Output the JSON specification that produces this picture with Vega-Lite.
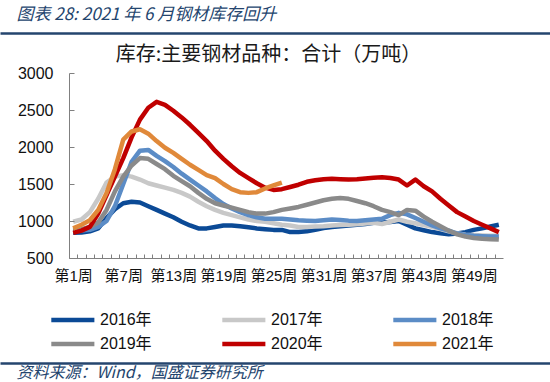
{
  "$schema": "https://vega.github.io/schema/vega-lite/v6.json",
  "width": 434,
  "height": 185,
  "autosize": {"type": "none"},
  "padding": {"left": 69, "top": 73, "right": 47, "bottom": 124},
  "background": "white",
  "config": {"view": {"stroke": null}},
  "data": {
    "values": [
      {"year":"2016年","week":1,"value":840},{"year":"2016年","week":2,"value":845},{"year":"2016年","week":3,"value":860},{"year":"2016年","week":4,"value":900},{"year":"2016年","week":5,"value":1040},{"year":"2016年","week":6,"value":1160},{"year":"2016年","week":7,"value":1240},{"year":"2016年","week":8,"value":1260},{"year":"2016年","week":9,"value":1250},{"year":"2016年","week":10,"value":1200},{"year":"2016年","week":11,"value":1150},{"year":"2016年","week":12,"value":1100},{"year":"2016年","week":13,"value":1050},{"year":"2016年","week":14,"value":990},{"year":"2016年","week":15,"value":940},{"year":"2016年","week":16,"value":900},{"year":"2016年","week":17,"value":900},{"year":"2016年","week":18,"value":920},{"year":"2016年","week":19,"value":940},{"year":"2016年","week":20,"value":940},{"year":"2016年","week":21,"value":930},{"year":"2016年","week":22,"value":915},{"year":"2016年","week":23,"value":900},{"year":"2016年","week":24,"value":890},{"year":"2016年","week":25,"value":880},{"year":"2016年","week":26,"value":880},{"year":"2016年","week":27,"value":850},{"year":"2016年","week":28,"value":850},{"year":"2016年","week":29,"value":860},{"year":"2016年","week":30,"value":880},{"year":"2016年","week":31,"value":905},{"year":"2016年","week":32,"value":920},{"year":"2016年","week":33,"value":930},{"year":"2016年","week":34,"value":940},{"year":"2016年","week":35,"value":950},{"year":"2016年","week":36,"value":960},{"year":"2016年","week":37,"value":975},{"year":"2016年","week":38,"value":980},{"year":"2016年","week":39,"value":985},{"year":"2016年","week":40,"value":1000},{"year":"2016年","week":41,"value":950},{"year":"2016年","week":42,"value":900},{"year":"2016年","week":43,"value":875},{"year":"2016年","week":44,"value":850},{"year":"2016年","week":45,"value":835},{"year":"2016年","week":46,"value":820},{"year":"2016年","week":47,"value":830},{"year":"2016年","week":48,"value":850},{"year":"2016年","week":49,"value":880},{"year":"2016年","week":50,"value":900},{"year":"2016年","week":51,"value":925},{"year":"2016年","week":52,"value":950},
      {"year":"2017年","week":1,"value":990},{"year":"2017年","week":2,"value":1020},{"year":"2017年","week":3,"value":1120},{"year":"2017年","week":4,"value":1300},{"year":"2017年","week":5,"value":1520},{"year":"2017年","week":6,"value":1600},{"year":"2017年","week":7,"value":1620},{"year":"2017年","week":8,"value":1600},{"year":"2017年","week":9,"value":1560},{"year":"2017年","week":10,"value":1510},{"year":"2017年","week":11,"value":1480},{"year":"2017年","week":12,"value":1450},{"year":"2017年","week":13,"value":1420},{"year":"2017年","week":14,"value":1380},{"year":"2017年","week":15,"value":1330},{"year":"2017年","week":16,"value":1260},{"year":"2017年","week":17,"value":1200},{"year":"2017年","week":18,"value":1150},{"year":"2017年","week":19,"value":1110},{"year":"2017年","week":20,"value":1080},{"year":"2017年","week":21,"value":1050},{"year":"2017年","week":22,"value":1020},{"year":"2017年","week":23,"value":1000},{"year":"2017年","week":24,"value":990},{"year":"2017年","week":25,"value":970},{"year":"2017年","week":26,"value":950},{"year":"2017年","week":27,"value":940},{"year":"2017年","week":28,"value":920},{"year":"2017年","week":29,"value":920},{"year":"2017年","week":30,"value":925},{"year":"2017年","week":31,"value":930},{"year":"2017年","week":32,"value":940},{"year":"2017年","week":33,"value":945},{"year":"2017年","week":34,"value":950},{"year":"2017年","week":35,"value":955},{"year":"2017年","week":36,"value":965},{"year":"2017年","week":37,"value":975},{"year":"2017年","week":38,"value":960},{"year":"2017年","week":39,"value":990},{"year":"2017年","week":40,"value":1020},{"year":"2017年","week":41,"value":990},{"year":"2017年","week":42,"value":970},{"year":"2017年","week":43,"value":945},{"year":"2017年","week":44,"value":920},{"year":"2017年","week":45,"value":890},{"year":"2017年","week":46,"value":860},{"year":"2017年","week":47,"value":835},{"year":"2017年","week":48,"value":815},{"year":"2017年","week":49,"value":810},{"year":"2017年","week":50,"value":805},{"year":"2017年","week":51,"value":800},{"year":"2017年","week":52,"value":800},
      {"year":"2018年","week":1,"value":870},{"year":"2018年","week":2,"value":870},{"year":"2018年","week":3,"value":880},{"year":"2018年","week":4,"value":920},{"year":"2018年","week":5,"value":1000},{"year":"2018年","week":6,"value":1200},{"year":"2018年","week":7,"value":1500},{"year":"2018年","week":8,"value":1800},{"year":"2018年","week":9,"value":1950},{"year":"2018年","week":10,"value":1960},{"year":"2018年","week":11,"value":1880},{"year":"2018年","week":12,"value":1810},{"year":"2018年","week":13,"value":1730},{"year":"2018年","week":14,"value":1640},{"year":"2018年","week":15,"value":1560},{"year":"2018年","week":16,"value":1480},{"year":"2018年","week":17,"value":1400},{"year":"2018年","week":18,"value":1310},{"year":"2018年","week":19,"value":1230},{"year":"2018年","week":20,"value":1170},{"year":"2018年","week":21,"value":1120},{"year":"2018年","week":22,"value":1080},{"year":"2018年","week":23,"value":1050},{"year":"2018年","week":24,"value":1030},{"year":"2018年","week":25,"value":1030},{"year":"2018年","week":26,"value":1030},{"year":"2018年","week":27,"value":1020},{"year":"2018年","week":28,"value":1010},{"year":"2018年","week":29,"value":1005},{"year":"2018年","week":30,"value":1000},{"year":"2018年","week":31,"value":1010},{"year":"2018年","week":32,"value":1020},{"year":"2018年","week":33,"value":1015},{"year":"2018年","week":34,"value":1005},{"year":"2018年","week":35,"value":1000},{"year":"2018年","week":36,"value":1010},{"year":"2018年","week":37,"value":1020},{"year":"2018年","week":38,"value":1030},{"year":"2018年","week":39,"value":1080},{"year":"2018年","week":40,"value":1110},{"year":"2018年","week":41,"value":1090},{"year":"2018年","week":42,"value":1040},{"year":"2018年","week":43,"value":990},{"year":"2018年","week":44,"value":940},{"year":"2018年","week":45,"value":900},{"year":"2018年","week":46,"value":870},{"year":"2018年","week":47,"value":830},{"year":"2018年","week":48,"value":810},{"year":"2018年","week":49,"value":800},{"year":"2018年","week":50,"value":795},{"year":"2018年","week":51,"value":790},{"year":"2018年","week":52,"value":790},
      {"year":"2019年","week":1,"value":870},{"year":"2019年","week":2,"value":890},{"year":"2019年","week":3,"value":920},{"year":"2019年","week":4,"value":980},{"year":"2019年","week":5,"value":1150},{"year":"2019年","week":6,"value":1400},{"year":"2019年","week":7,"value":1600},{"year":"2019年","week":8,"value":1750},{"year":"2019年","week":9,"value":1850},{"year":"2019年","week":10,"value":1840},{"year":"2019年","week":11,"value":1770},{"year":"2019年","week":12,"value":1700},{"year":"2019年","week":13,"value":1610},{"year":"2019年","week":14,"value":1540},{"year":"2019年","week":15,"value":1470},{"year":"2019年","week":16,"value":1380},{"year":"2019年","week":17,"value":1300},{"year":"2019年","week":18,"value":1240},{"year":"2019年","week":19,"value":1210},{"year":"2019年","week":20,"value":1180},{"year":"2019年","week":21,"value":1150},{"year":"2019年","week":22,"value":1120},{"year":"2019年","week":23,"value":1100},{"year":"2019年","week":24,"value":1100},{"year":"2019年","week":25,"value":1120},{"year":"2019年","week":26,"value":1150},{"year":"2019年","week":27,"value":1170},{"year":"2019年","week":28,"value":1190},{"year":"2019年","week":29,"value":1220},{"year":"2019年","week":30,"value":1250},{"year":"2019年","week":31,"value":1280},{"year":"2019年","week":32,"value":1300},{"year":"2019年","week":33,"value":1310},{"year":"2019年","week":34,"value":1300},{"year":"2019年","week":35,"value":1270},{"year":"2019年","week":36,"value":1240},{"year":"2019年","week":37,"value":1200},{"year":"2019年","week":38,"value":1150},{"year":"2019年","week":39,"value":1120},{"year":"2019年","week":40,"value":1080},{"year":"2019年","week":41,"value":1150},{"year":"2019年","week":42,"value":1140},{"year":"2019年","week":43,"value":1060},{"year":"2019年","week":44,"value":990},{"year":"2019年","week":45,"value":930},{"year":"2019年","week":46,"value":870},{"year":"2019年","week":47,"value":820},{"year":"2019年","week":48,"value":790},{"year":"2019年","week":49,"value":770},{"year":"2019年","week":50,"value":760},{"year":"2019年","week":51,"value":755},{"year":"2019年","week":52,"value":750},
      {"year":"2020年","week":1,"value":840},{"year":"2020年","week":2,"value":870},{"year":"2020年","week":3,"value":920},{"year":"2020年","week":4,"value":1100},{"year":"2020年","week":5,"value":1350},{"year":"2020年","week":6,"value":1600},{"year":"2020年","week":7,"value":1850},{"year":"2020年","week":8,"value":2130},{"year":"2020年","week":9,"value":2370},{"year":"2020年","week":10,"value":2530},{"year":"2020年","week":11,"value":2610},{"year":"2020年","week":12,"value":2570},{"year":"2020年","week":13,"value":2490},{"year":"2020年","week":14,"value":2400},{"year":"2020年","week":15,"value":2300},{"year":"2020年","week":16,"value":2190},{"year":"2020年","week":17,"value":2080},{"year":"2020年","week":18,"value":1950},{"year":"2020年","week":19,"value":1840},{"year":"2020年","week":20,"value":1740},{"year":"2020年","week":21,"value":1650},{"year":"2020年","week":22,"value":1580},{"year":"2020年","week":23,"value":1510},{"year":"2020年","week":24,"value":1450},{"year":"2020年","week":25,"value":1420},{"year":"2020年","week":26,"value":1430},{"year":"2020年","week":27,"value":1460},{"year":"2020年","week":28,"value":1490},{"year":"2020年","week":29,"value":1530},{"year":"2020年","week":30,"value":1550},{"year":"2020年","week":31,"value":1565},{"year":"2020年","week":32,"value":1570},{"year":"2020年","week":33,"value":1565},{"year":"2020年","week":34,"value":1560},{"year":"2020年","week":35,"value":1565},{"year":"2020年","week":36,"value":1575},{"year":"2020年","week":37,"value":1585},{"year":"2020年","week":38,"value":1590},{"year":"2020年","week":39,"value":1580},{"year":"2020年","week":40,"value":1560},{"year":"2020年","week":41,"value":1480},{"year":"2020年","week":42,"value":1560},{"year":"2020年","week":43,"value":1470},{"year":"2020年","week":44,"value":1400},{"year":"2020年","week":45,"value":1300},{"year":"2020年","week":46,"value":1210},{"year":"2020年","week":47,"value":1120},{"year":"2020年","week":48,"value":1060},{"year":"2020年","week":49,"value":1000},{"year":"2020年","week":50,"value":950},{"year":"2020年","week":51,"value":900},{"year":"2020年","week":52,"value":850},
      {"year":"2021年","week":1,"value":900},{"year":"2021年","week":2,"value":950},{"year":"2021年","week":3,"value":1010},{"year":"2021年","week":4,"value":1150},{"year":"2021年","week":5,"value":1380},{"year":"2021年","week":6,"value":1700},{"year":"2021年","week":7,"value":2100},{"year":"2021年","week":8,"value":2210},{"year":"2021年","week":9,"value":2240},{"year":"2021年","week":10,"value":2180},{"year":"2021年","week":11,"value":2080},{"year":"2021年","week":12,"value":1990},{"year":"2021年","week":13,"value":1920},{"year":"2021年","week":14,"value":1840},{"year":"2021年","week":15,"value":1760},{"year":"2021年","week":16,"value":1690},{"year":"2021年","week":17,"value":1620},{"year":"2021年","week":18,"value":1580},{"year":"2021年","week":19,"value":1500},{"year":"2021年","week":20,"value":1430},{"year":"2021年","week":21,"value":1390},{"year":"2021年","week":22,"value":1380},{"year":"2021年","week":23,"value":1390},{"year":"2021年","week":24,"value":1440},{"year":"2021年","week":25,"value":1480},{"year":"2021年","week":26,"value":1520}
    ]
  },
  "layer": [
    {
      "mark": {"type": "line", "strokeWidth": 4.5, "strokeJoin": "round", "strokeCap": "butt"},
      "encoding": {
        "x": {
          "field": "week", "type": "quantitative",
          "scale": {"domain": [0.5, 52.5], "nice": false, "zero": false},
          "axis": {
            "values": [1,2,3,4,5,6,7,8,9,10,11,12,13,14,15,16,17,18,19,20,21,22,23,24,25,26,27,28,29,30,31,32,33,34,35,36,37,38,39,40,41,42,43,44,45,46,47,48,49,50,51,52],
            "labelExpr": "(datum.value - 1) % 6 == 0 ? '第' + datum.value + '周' : ''",
            "labelOverlap": false, "labelFlush": false, "labelBound": false,
            "grid": false, "title": null, "domain": true, "zindex": 1,
            "tickSize": -4, "tickColor": "#808080", "tickOffset": -4.17, "labelOffset": 4.17,
            "domainColor": "#808080",
            "labelFont": "Liberation Sans, Noto Sans CJK SC", "labelFontSize": 15, "labelColor": "#111111",
            "labelPadding": 14, "labelBaseline": "top"
          }
        },
        "y": {
          "field": "value", "type": "quantitative",
          "scale": {"domain": [500, 3000], "nice": false, "zero": false},
          "axis": {
            "orient": "left",
            "values": [500, 1000, 1500, 2000, 2500, 3000],
            "format": "d", "labelOverlap": false, "labelFlush": false, "labelBound": false,
            "grid": false, "domain": true, "zindex": 1,
            "tickSize": -5, "tickColor": "#808080", "domainColor": "#808080",
            "labelFont": "Liberation Sans", "labelFontSize": 16, "labelColor": "#111111",
            "labelPadding": 21,
            "title": "库存:主要钢材品种：合计（万吨）",
            "titleAngle": 0, "titleX": 199, "titleY": -19, "titleAlign": "center", "titleBaseline": "middle",
            "titleFont": "Noto Sans CJK SC", "titleFontSize": 20, "titleFontWeight": "normal", "titleColor": "#1a1a1a"
          }
        },
        "color": {
          "field": "year", "type": "nominal",
          "scale": {
            "domain": ["2016年", "2017年", "2018年", "2019年", "2020年", "2021年"],
            "range": ["#0b4a96", "#c8c8c8", "#5b8cc6", "#8a8a8a", "#c00000", "#e0893a"]
          },
          "legend": {
            "orient": "none", "legendX": 12, "legendY": 239,
            "direction": "horizontal", "columns": 3, "title": null, "padding": 0,
            "symbolType": "M-7,0H1", "symbolSize": 116, "symbolStrokeWidth": 4.5,
            "labelFont": "Liberation Sans, Noto Sans CJK SC", "labelFontSize": 16, "labelColor": "#111111",
            "labelOffset": 3, "columnPadding": 61, "rowPadding": 6
          }
        }
      }
    },
    {
      "mark": {"type": "point", "opacity": 0},
      "encoding": {
        "x": {
          "field": "week", "type": "quantitative",
          "scale": {"domain": [0.5, 52.5], "range": [-69, 481], "nice": false, "zero": false},
          "axis": {
            "orient": "bottom", "offset": 104, "domain": false, "ticks": false, "labels": false, "grid": false,
            "zindex": 1,
            "title": "资料来源：Wind，国盛证券研究所",
            "titleAngle": 0, "titleX": -53, "titleY": 10, "titleAlign": "left", "titleBaseline": "middle",
            "titleFont": "Noto Sans CJK SC", "titleFontSize": 16, "titleFontStyle": "italic", "titleFontWeight": "normal", "titleColor": "#24456e"
          }
        },
        "y": {
          "field": "value", "type": "quantitative",
          "scale": {"domain": [0, 1], "range": [-40, 290], "nice": false, "zero": false},
          "axis": {
            "orient": "left", "values": [0, 1],
            "grid": true, "gridColor": "#24456e", "gridWidth": 2.5, "gridOpacity": 1,
            "domain": false, "ticks": false, "labels": false, "zindex": 1,
            "title": "图表 28:  2021 年 6 月钢材库存回升",
            "titleAngle": 0, "titleX": -53, "titleY": -59, "titleAlign": "left", "titleBaseline": "middle",
            "titleFont": "Noto Sans CJK SC", "titleFontSize": 17, "titleFontStyle": "italic", "titleFontWeight": "normal", "titleColor": "#24456e"
          }
        }
      }
    }
  ],
  "resolve": {"scale": {"x": "independent", "y": "independent"}}
}
